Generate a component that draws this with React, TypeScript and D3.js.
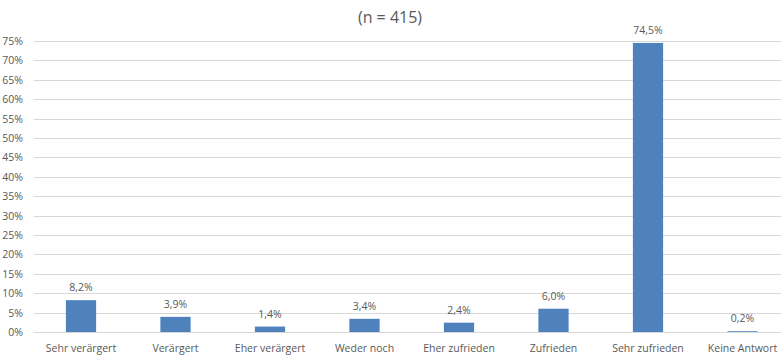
import { useRef, useEffect } from 'react';
import * as d3 from 'd3';

const categories = ['Sehr verärgert', 'Verärgert', 'Eher verärgert', 'Weder noch', 'Eher zufrieden', 'Zufrieden', 'Sehr zufrieden', 'Keine Antwort'];
const values = [8.2, 3.9, 1.4, 3.4, 2.4, 6.0, 74.5, 0.2];
const yTicks = [0, 5, 10, 15, 20, 25, 30, 35, 40, 45, 50, 55, 60, 65, 70, 75];
const title = '(n = 415)';

const App = () => {
  const svgRef = useRef<SVGSVGElement | null>(null);

  useEffect(() => {
    if (!svgRef.current) return;
    const svg = d3.select(svgRef.current);
    svg.selectAll('*').remove();

    const width = 781;
    const height = 362;
    const left = 33.75;
    const right = 789.75;
    const top = 41;
    const bottom = 332;
    const font = "'Open Sans', 'Liberation Sans', sans-serif";
    const textColor = '#595959';

    const x = d3.scaleBand().domain(categories).range([left, right]).paddingInner(0.68).paddingOuter(0.34);
    const y = d3.scaleLinear().domain([0, 75]).range([bottom, top]);

    svg.attr('width', width).attr('height', height);

    svg.append('text')
      .attr('x', 390)
      .attr('y', 23)
      .attr('text-anchor', 'middle')
      .attr('font-family', font)
      .attr('font-size', 16)
      .attr('fill', textColor)
      .text(title);

    // grid
    svg.append('g')
      .selectAll('line')
      .data(yTicks)
      .enter()
      .append('line')
      .attr('x1', left)
      .attr('x2', right)
      .attr('y1', d => Math.round(y(d)) + 0.5)
      .attr('y2', d => Math.round(y(d)) + 0.5)
      .attr('stroke', '#d9d9d9')
      .attr('stroke-width', 1);

    svg.append('g')
      .selectAll('text')
      .data(yTicks)
      .enter()
      .append('text')
      .attr('x', 23)
      .attr('y', d => y(d) + 4)
      .attr('text-anchor', 'end')
      .attr('font-family', font)
      .attr('font-size', 10.5)
      .attr('fill', textColor)
      .text(d => `${d}%`);

    const data = categories.map((c, i) => ({ c, v: values[i] }));

    svg.append('g')
      .selectAll('rect')
      .data(data)
      .enter()
      .append('rect')
      .attr('x', d => x(d.c)!)
      .attr('width', x.bandwidth())
      .attr('y', d => y(d.v))
      .attr('height', d => bottom - y(d.v))
      .attr('fill', '#4f81bd');

    svg.append('g')
      .selectAll('text')
      .data(data)
      .enter()
      .append('text')
      .attr('x', d => x(d.c)! + x.bandwidth() / 2)
      .attr('y', d => y(d.v) - 9)
      .attr('text-anchor', 'middle')
      .attr('font-family', font)
      .attr('font-size', 10.5)
      .attr('fill', textColor)
      .text(d => `${d.v.toFixed(1).replace('.', ',')}%`);

    svg.append('g')
      .selectAll('text')
      .data(categories)
      .enter()
      .append('text')
      .attr('x', d => x(d)! + x.bandwidth() / 2)
      .attr('y', 352)
      .attr('text-anchor', 'middle')
      .attr('font-family', font)
      .attr('font-size', 10.5)
      .attr('fill', textColor)
      .text(d => d);
  }, []);

  return (
    <div style={{ position: 'absolute', left: 0, top: 0 }}>
      <svg ref={svgRef} style={{ display: 'block', background: '#fff' }} />
    </div>
  );
};

export default App;
